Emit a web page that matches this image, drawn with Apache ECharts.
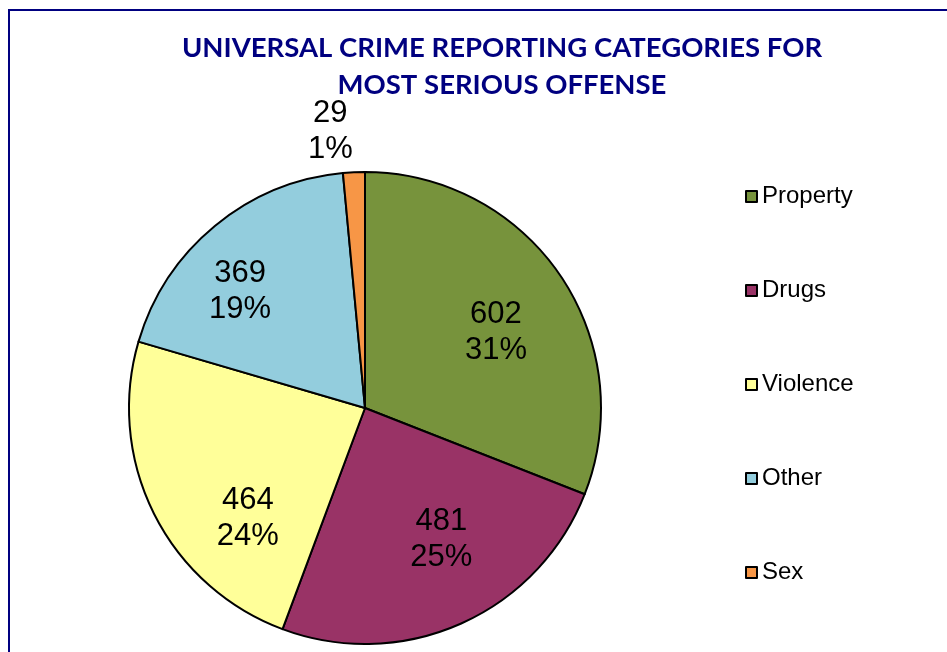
<!DOCTYPE html>
<html>
<head>
<meta charset="utf-8">
<script src="https://cdn.jsdelivr.net/npm/echarts@6/dist/echarts.min.js"></script>
<style>html,body{margin:0;padding:0;background:#fff}#c{width:947px;height:652px}</style>
</head>
<body>
<div id="c"></div>
<script>
const categories = ['Property', 'Drugs', 'Violence', 'Other', 'Sex'];
const values = [602, 481, 464, 369, 29];
const percentLabels = ['31%', '25%', '24%', '19%', '1%'];
const colors = ['#77933C', '#993366', '#FFFF99', '#93CDDD', '#F79646'];
const labelOffsets = [[31, -7], [27, 21], [-9, 56], [-48, -23], [-29, -156]];

const chart = echarts.init(document.getElementById('c'));
chart.setOption({
  animation: false,
  graphic: [{
    type: 'rect',
    shape: { x: 9, y: 10, width: 1100, height: 1100 },
    style: { fill: 'none', stroke: '#000080', lineWidth: 2 },
    silent: true
  }],
  title: {
    text: 'UNIVERSAL CRIME REPORTING CATEGORIES FOR\nMOST SERIOUS OFFENSE',
    left: 497, top: 25, textAlign: 'center',
    textStyle: { color: '#000080', fontFamily: 'Lato', fontWeight: 'bold', fontSize: 27.5, lineHeight: 37 }
  },
  legend: {
    orient: 'vertical', left: 740, top: 179,
    itemWidth: 11, itemHeight: 11, itemGap: 69,
    icon: 'rect',
    itemStyle: { borderColor: '#000', borderWidth: 2 },
    textStyle: { fontFamily: 'Liberation Sans', fontSize: 24, color: '#000', lineHeight: 25 },
    data: categories
  },
  series: [{
    type: 'pie',
    center: [365, 408], radius: 236,
    startAngle: 90, clockwise: true,
    avoidLabelOverlap: false,
    itemStyle: { borderColor: '#000', borderWidth: 2 },
    label: {
      position: 'inside', color: '#000', fontFamily: 'Liberation Sans', fontSize: 31, lineHeight: 36
    },
    labelLine: { show: false },
    emphasis: { disabled: true },
    data: categories.map((n, i) => ({
      name: n, value: values[i],
      itemStyle: { color: colors[i] },
      label: { formatter: values[i] + '\n' + percentLabels[i], offset: labelOffsets[i] }
    }))
  }]
});
</script>
</body>
</html>
